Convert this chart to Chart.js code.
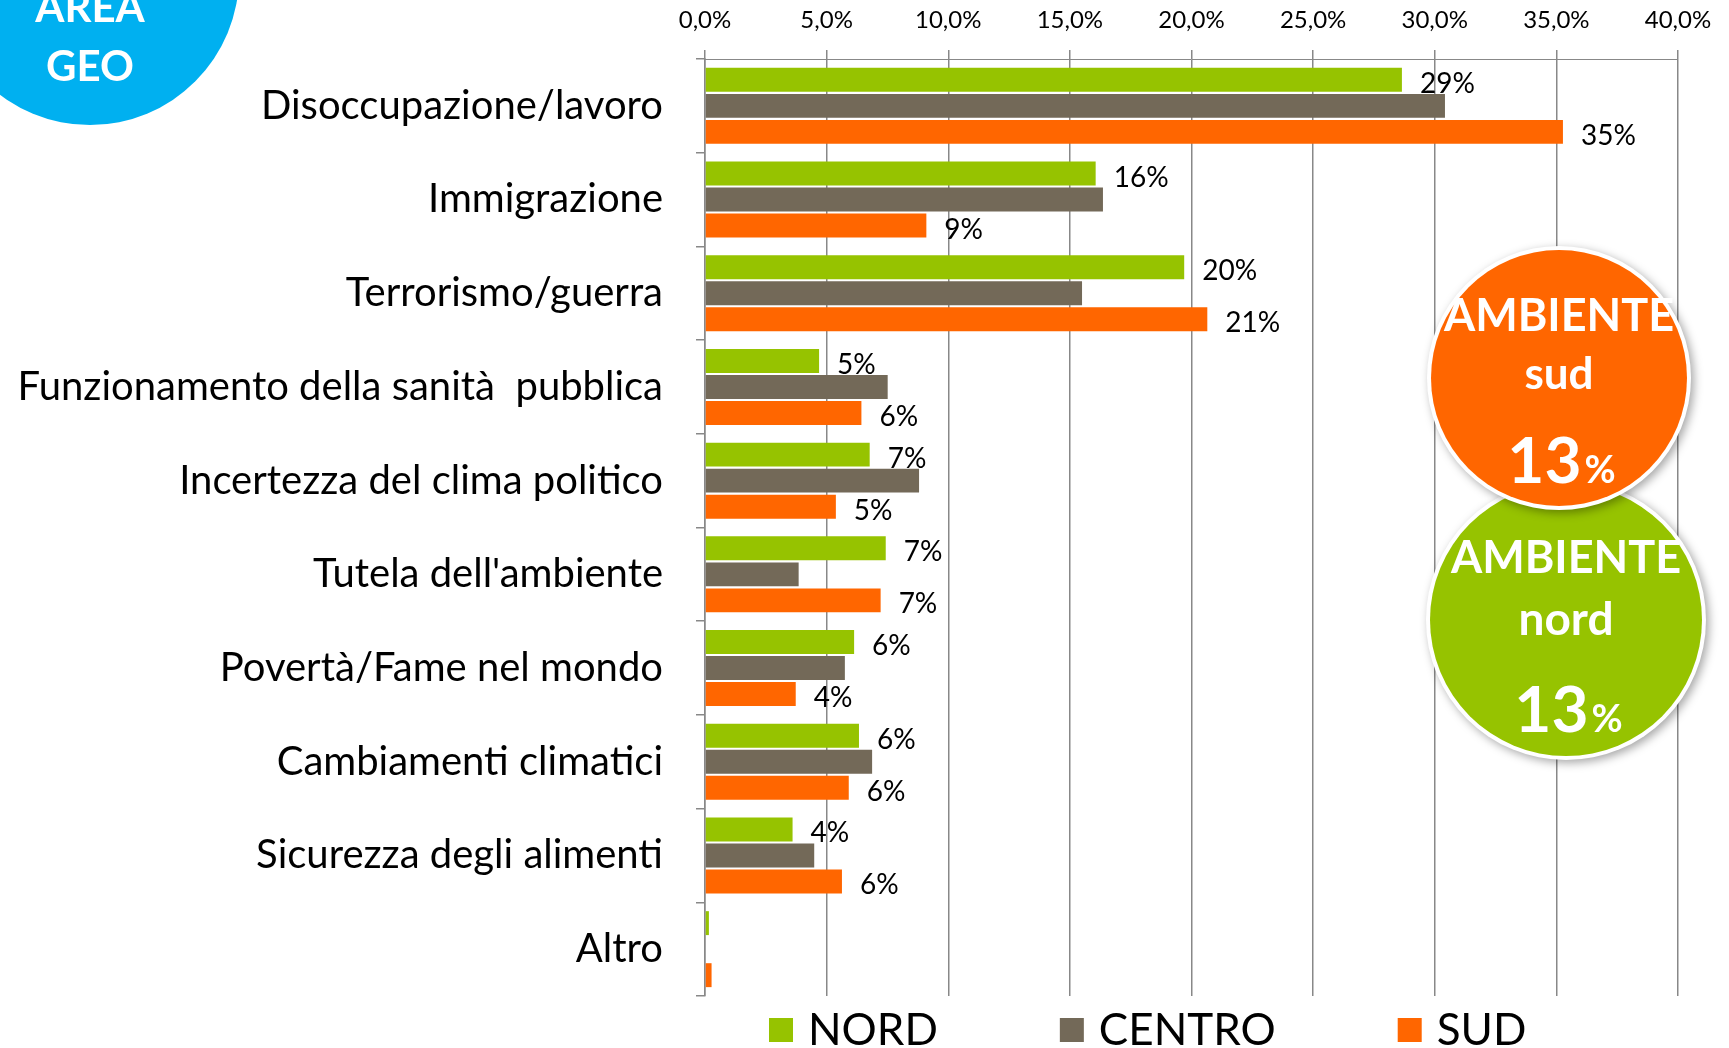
<!DOCTYPE html>
<html>
<head>
<meta charset="utf-8">
<title>Preoccupazioni per area geografica</title>
<script src="https://cdn.jsdelivr.net/npm/chart.js@4.4.1/dist/chart.umd.min.js"></script>
<style>
  html, body { margin: 0; padding: 0; background: #fff; }
  #wrap { width: 1729px; height: 1048px; position: relative; overflow: hidden; }
</style>
</head>
<body>
<div id="wrap"><canvas id="chartAree" width="1729" height="1048"></canvas></div>
<script>
// Dati
const categorie = [
  "Disoccupazione/lavoro",
  "Immigrazione",
  "Terrorismo/guerra",
  "Funzionamento della sanità  pubblica",
  "Incertezza del clima politico",
  "Tutela dell'ambiente",
  "Povertà/Fame nel mondo",
  "Cambiamenti climatici",
  "Sicurezza degli alimenti",
  "Altro",
];
const nord = [28.65, 16.06, 19.7, 4.69, 6.77, 7.43, 6.13, 6.33, 3.6, 0.16];
const centro = [30.42, 16.36, 15.5, 7.51, 8.8, 3.85, 5.75, 6.87, 4.49, 0];
const sud = [35.27, 9.1, 20.65, 6.43, 5.38, 7.22, 3.73, 5.91, 5.63, 0.27];
const tickValori = [0, 5, 10, 15, 20, 25, 30, 35, 40];

const VERDE = "#96C300";
const GRIGIO = "#736958";
const ARANCIO = "#FF6600";
const AZZURRO = "#00B0F0";
const LINEE = "#888888";

// Etichette dei valori (solo NORD e SUD)
const etichetteValori = {
  id: "etichetteValori",
  afterDatasetsDraw(chart) {
    const ctx = chart.ctx;
    ctx.save();
    ctx.font = "28px Lato";
    ctx.fillStyle = "#000";
    ctx.textAlign = "left";
    ctx.textBaseline = "middle";
    chart.data.datasets.forEach((ds, i) => {
      if (!ds.mostraEtichette) return;
      chart.getDatasetMeta(i).data.forEach((bar, j) => {
        const v = ds.data[j];
        if (v < 1) return;
        ctx.fillText(Math.round(v) + "%", bar.x + 18, bar.y + 4);
      });
    });
    ctx.restore();
  },
};

// Legenda in basso
const legendaBassa = {
  id: "legendaBassa",
  afterDraw(chart) {
    const ctx = chart.ctx;
    const area = chart.chartArea;
    ctx.save();
    ctx.font = "44px Lato";
    ctx.textBaseline = "middle";
    ctx.textAlign = "left";
    let x = area.left + 64;
    const y = 1030;
    chart.data.datasets.forEach((ds) => {
      ctx.fillStyle = ds.backgroundColor;
      ctx.fillRect(x, y - 12, 24, 24);
      ctx.fillStyle = "#000";
      ctx.fillText(ds.label, x + 39, y + 1);
      x += 39 + ctx.measureText(ds.label).width + 122;
    });
    ctx.restore();
  },
};

function bolla(ctx, cx, cy, r, colore, righe) {
  ctx.save();
  ctx.shadowColor = "rgba(0,0,0,0.35)";
  ctx.shadowBlur = 10;
  ctx.shadowOffsetX = 3;
  ctx.shadowOffsetY = 3;
  ctx.beginPath();
  ctx.arc(cx, cy, r, 0, Math.PI * 2);
  ctx.fillStyle = "#fff";
  ctx.fill();
  ctx.restore();
  ctx.save();
  ctx.beginPath();
  ctx.arc(cx, cy, r - 4, 0, Math.PI * 2);
  ctx.fillStyle = colore;
  ctx.fill();
  ctx.fillStyle = "#fff";
  ctx.textBaseline = "alphabetic";
  righe.forEach((riga) => {
    if (riga.parti) {
      let tot = 0;
      riga.parti.forEach((p) => { ctx.font = p.font; tot += ctx.measureText(p.testo).width + 3; });
      let x = cx - tot / 2 + 4;
      ctx.textAlign = "left";
      riga.parti.forEach((p) => {
        ctx.font = p.font;
        ctx.fillText(p.testo, x, cy + riga.dy);
        x += ctx.measureText(p.testo).width + 3;
      });
    } else {
      ctx.font = riga.font;
      ctx.textAlign = "center";
      ctx.fillText(riga.testo, cx, cy + riga.dy);
    }
  });
  ctx.restore();
}

// Decorazioni: "AREA GEO" e i cerchi AMBIENTE
const decorazioni = {
  id: "decorazioni",
  afterDraw(chart) {
    const ctx = chart.ctx;
    ctx.save();
    ctx.beginPath();
    ctx.arc(90, -24, 149, 0, Math.PI * 2);
    ctx.fillStyle = AZZURRO;
    ctx.fill();
    ctx.fillStyle = "#fff";
    ctx.font = "bold 42px Lato";
    ctx.textAlign = "center";
    ctx.fillText("AREA", 90, 22);
    ctx.fillText("GEO", 90, 81);
    ctx.restore();

    bolla(ctx, 1566, 620, 140, VERDE, [
      { testo: "AMBIENTE", font: "bold 45px Lato", dy: -47 },
      { testo: "nord", font: "bold 46px Lato", dy: 15 },
      { parti: [{ testo: "13", font: "bold 64px Lato" }, { testo: "%", font: "bold 38px Lato" }], dy: 112 },
    ]);
    bolla(ctx, 1559, 378, 132, ARANCIO, [
      { testo: "AMBIENTE", font: "bold 45px Lato", dy: -47 },
      { testo: "sud", font: "bold 44px Lato", dy: 11 },
      { parti: [{ testo: "13", font: "bold 64px Lato" }, { testo: "%", font: "bold 38px Lato" }], dy: 105 },
    ]);
  },
};

const ctx = document.getElementById("chartAree").getContext("2d");
new Chart(ctx, {
  type: "bar",
  data: {
    labels: categorie,
    datasets: [
      { label: "NORD", data: nord, backgroundColor: VERDE, mostraEtichette: true },
      { label: "CENTRO", data: centro, backgroundColor: GRIGIO, mostraEtichette: false },
      { label: "SUD", data: sud, backgroundColor: ARANCIO, mostraEtichette: true },
    ],
  },
  options: {
    indexAxis: "y",
    responsive: false,
    animation: false,
    devicePixelRatio: 1,
    categoryPercentage: 0.833,
    barPercentage: 0.92,
    layout: { padding: { left: 0, top: 0, right: 51, bottom: 52 } },
    plugins: {
      legend: { display: false },
      tooltip: { enabled: false },
    },
    scales: {
      x: {
        position: "top",
        min: 0,
        max: 40,
        afterBuildTicks: (scale) => {
          scale.ticks = tickValori.map((v) => ({ value: v }));
        },
        afterFit: (scale) => { scale.height = 59; },
        ticks: {
          padding: 15,
          color: "#000",
          font: { family: "Lato", size: 24 },
          callback: (v) => v.toFixed(1).replace(".", ",") + "%",
        },
        grid: { color: LINEE, lineWidth: 1.5, tickLength: 9 },
        border: { display: true, color: LINEE, width: 1 },
      },
      y: {
        afterFit: (scale) => {
          scale.width = 705;
          scale.paddingTop = 0;
          scale.paddingBottom = 0;
        },
        ticks: {
          padding: 33,
          color: "#000",
          font: { family: "Lato", size: 40 },
        },
        grid: { drawOnChartArea: false, color: LINEE, lineWidth: 1.5, tickLength: 9 },
        border: { display: true, color: LINEE, width: 1.5 },
      },
    },
  },
  plugins: [etichetteValori, legendaBassa, decorazioni],
});
</script>
</body>
</html>
